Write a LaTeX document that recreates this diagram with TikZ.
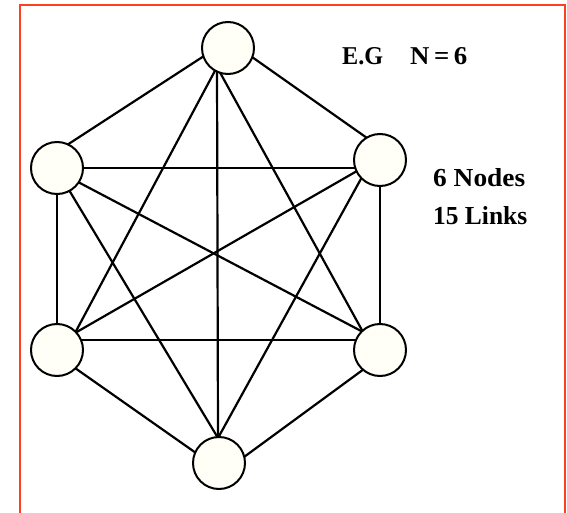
\documentclass[tikz,border=0pt]{standalone}
\usepackage{fontspec}
\setmainfont{Liberation Serif}
\usetikzlibrary{backgrounds}
\definecolor{frameorange}{RGB}{255,64,32}
\definecolor{nodefill}{RGB}{255,255,248}
\tikzset{
  netnode/.style={circle,draw=black,fill=nodefill,line width=2pt,minimum size=52pt,inner sep=0pt},
  link/.style={draw=black,line width=2.2pt},
  lbl/.style={anchor=base west,inner sep=0pt,font=\bfseries}
}
\begin{document}
\begin{tikzpicture}[x=1pt,y=-1pt]
\useasboundingbox (0,0) rectangle (567,513);
% frame
\draw[frameorange,line width=2.6pt] (20,513) -- (20,5) -- (565,5) -- (565,513);
% nodes
\node[netnode] (T)  at (228,48)  {};
\node[netnode] (UL) at (57,168)  {};
\node[netnode] (UR) at (380,160) {};
\node[netnode] (LL) at (57,350)  {};
\node[netnode] (LR) at (380,350) {};
\node[netnode] (B)  at (219,463) {};
% ports
\coordinate (T-ul) at (204,56);
\coordinate (T-ur) at (252,57);
\coordinate (T-d)  at (217,67);
\coordinate (UL-t) at (67,145);
\coordinate (UL-r) at (82,168);
\coordinate (UL-b) at (57,193);
\coordinate (UL-lr) at (78,182);
\coordinate (UL-bb) at (69,190);
\coordinate (UR-t) at (367,138);
\coordinate (UR-l) at (356,168);
\coordinate (UR-ll) at (357,171);
\coordinate (UR-b) at (380,185);
\coordinate (UR-bb) at (362,177);
\coordinate (LL-t) at (75,333);
\coordinate (LL-u) at (57,325);
\coordinate (LL-r) at (81,340);
\coordinate (LL-bb) at (75,368);
\coordinate (LR-ul) at (363,332);
\coordinate (LR-u) at (380,325);
\coordinate (LR-l) at (356,340);
\coordinate (LR-bb) at (364,369);
\coordinate (B-t) at (218,438);
\coordinate (B-ll) at (196,453);
\coordinate (B-lr) at (244,457);
\begin{pgfonlayer}{background}
\path[link] (T-ul) -- (UL-t);
\path[link] (T-ur) -- (UR-t);
\path[link] (T-d) -- (LL-t);
\path[link] (T-d) -- (B-t);
\path[link] (T-d) -- (LR-ul);
\path[link] (UL-r) -- (UR-l);
\path[link] (UL-b) -- (LL-u);
\path[link] (UL-lr) -- (LR-ul);
\path[link] (UL-bb) -- (B-t);
\path[link] (UR-ll) -- (LL-t);
\path[link] (UR-b) -- (LR-u);
\path[link] (UR-bb) -- (B-t);
\path[link] (LL-r) -- (LR-l);
\path[link] (LL-bb) -- (B-ll);
\path[link] (B-lr) -- (LR-bb);
\end{pgfonlayer}
% labels
\node[lbl] (eg) at (342,65) {\resizebox{41pt}{17pt}{E.G}};
\node[lbl] (n6) at (410,65) {\resizebox{57pt}{17pt}{N\,=\,6}};
\node[lbl] (nodes) at (433,187) {\resizebox{92pt}{18pt}{6 Nodes}};
\node[lbl] (links) at (433,225) {\resizebox{94pt}{18pt}{15 Links}};
\end{tikzpicture}
\end{document}
